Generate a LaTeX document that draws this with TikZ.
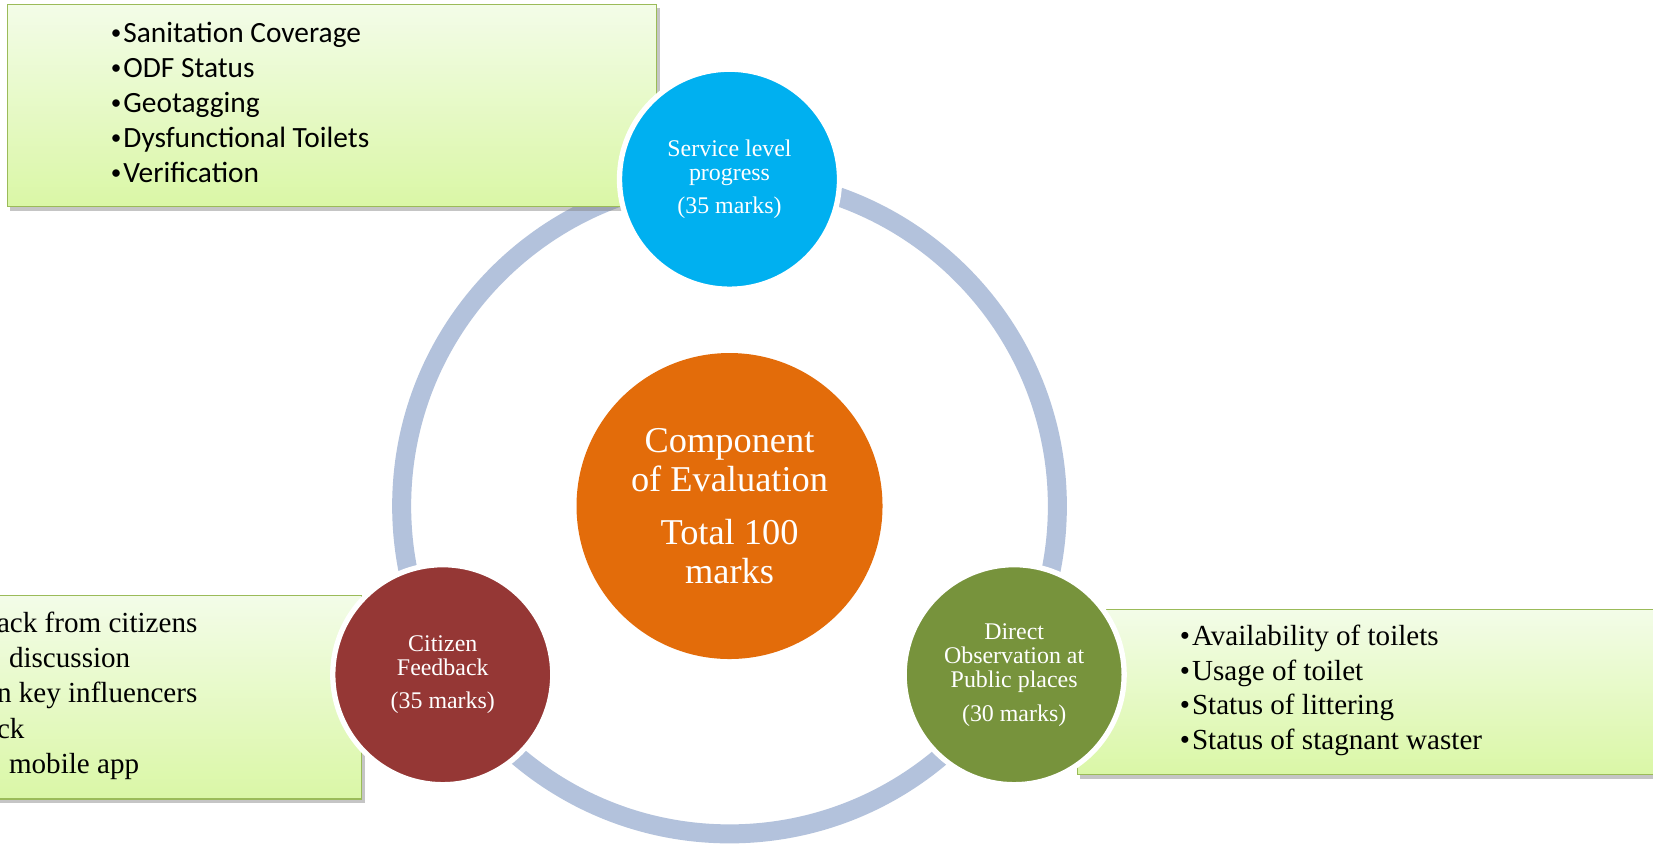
\documentclass[tikz,border=0pt]{standalone}
\usepackage{fontspec}
\setmainfont{Liberation Serif}
\newfontfamily\calib{Carlito}
\usetikzlibrary{shadows}
\definecolor{ringC}{RGB}{179,194,220}
\definecolor{blueC}{RGB}{0,176,240}
\definecolor{orangeC}{RGB}{227,108,10}
\definecolor{redC}{RGB}{149,55,53}
\definecolor{greenC}{RGB}{119,147,60}
\definecolor{boxBorder}{RGB}{155,187,89}
\definecolor{boxTop}{RGB}{243,252,232}
\definecolor{boxBot}{RGB}{218,247,166}
\newcommand\smbul{\raisebox{0.1em}{\scalebox{0.72}{•}}\hspace{2bp}}
\newcommand\serbul{•\hspace{2bp}}
\begin{document}
\begin{tikzpicture}[x=1.0542bp,y=-1.0542bp,
  box/.style={draw=boxBorder, line width=1.3bp, top color=boxTop, bottom color=boxBot,
    drop shadow={opacity=0.45, shadow xshift=3bp, shadow yshift=-4bp}, inner sep=0pt},
  smallcirc/.style={circle, draw=white, line width=5.3bp, minimum size=220bp, inner sep=0pt,
    text=white, align=center, font=\fontsize{24}{24.4}\selectfont},
  bigcirc/.style={circle, fill=orangeC, minimum size=306bp, inner sep=0pt,
    text=white, align=center, font=\fontsize{36.5}{39}\selectfont},
  listtext/.style={anchor=west, align=left, inner sep=0pt}
]
\useasboundingbox (0,0) rectangle (1568,802.5);
\clip (0,0) rectangle (1568,802.5);
\fill[white] (0,0) rectangle (1568,802.5);

% ring
\draw[ringC, line width=19bp] (692,480) circle[radius=311];

% boxes
\node[box, minimum width=649.4bp, minimum height=202.4bp] (tbox) at (315,100) {};
\node[box, minimum width=579.8bp, minimum height=165.5bp] (rbox) at (1297,656.5) {};
\node[box, minimum width=382.7bp, minimum height=203.5bp] (lbox) at (161.5,661.5) {};

% box texts
\node[listtext, font=\calib\fontsize{29.5}{35.1}\selectfont] (ttext) at (105,97)
  {\smbul Sanitation Coverage\\ \smbul ODF Status\\ \smbul Geotagging\\ \smbul Dysfunctional Toilets\\ \smbul Verification};
\node[listtext, font=\fontsize{29.2}{34.8}\selectfont] (rtext) at (1119,655)
  {\serbul Availability of toilets\\ \serbul Usage of toilet\\ \serbul Status of littering\\ \serbul Status of stagnant waster};
\node[listtext, font=\fontsize{29.2}{35.5}\selectfont] (ltext) at (-3,660)
  {ack from citizens\\ \hspace*{12bp}discussion\\ n key influencers\\ ck\\ \hspace*{12bp}mobile app};

% circles
\node[smallcirc, fill=blueC] (slp) at (692,170) {Service level\\progress\\[9bp](35 marks)};
\node[smallcirc, fill=redC] (cf) at (420,640) {Citizen\\Feedback\\[9bp](35 marks)};
\node[smallcirc, fill=greenC] (dop) at (962,640) {Direct\\Observation at\\Public places\\[9bp](30 marks)};
\node[bigcirc] (coe) at (692,480) {Component\\of Evaluation\\[14bp]Total 100\\marks};
\end{tikzpicture}
\end{document}
